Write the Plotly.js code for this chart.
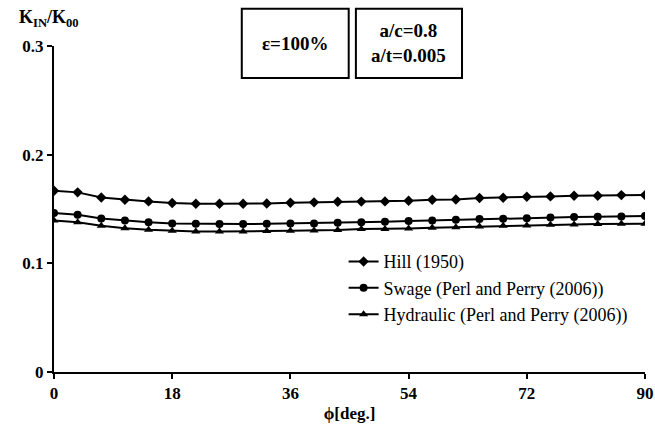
<!DOCTYPE html>
<html>
<head>
<meta charset="utf-8">
<script src="https://cdn.plot.ly/plotly-3.0.1.min.js"></script>
<style>html,body{margin:0;padding:0;background:#fff;}#chart{width:655px;height:425px;}</style>
</head>
<body>
<div id="chart"></div>
<script>
const phi = [0,3.6,7.2,10.8,14.4,18,21.6,25.2,28.8,32.4,36,39.6,43.2,46.8,50.4,54,57.6,61.2,64.8,68.4,72,75.6,79.2,82.8,86.4,90];
const hill = [0.1668,0.1653,0.1606,0.1585,0.1570,0.1555,0.1548,0.1548,0.1548,0.1551,0.1558,0.1561,0.1567,0.1568,0.1570,0.1576,0.1585,0.1588,0.1601,0.1604,0.1613,0.1616,0.1622,0.1622,0.1628,0.1628];
const swage = [0.1463,0.1447,0.1413,0.1394,0.1379,0.1367,0.1364,0.1361,0.1361,0.1364,0.1367,0.1367,0.1373,0.1379,0.1382,0.1389,0.1395,0.1401,0.1407,0.1410,0.1416,0.1422,0.1426,0.1429,0.1431,0.1435];
const hydraulic = [0.1394,0.1379,0.1346,0.1324,0.1309,0.1300,0.1293,0.1293,0.1293,0.1297,0.1300,0.1302,0.1306,0.1315,0.1315,0.1321,0.1327,0.1333,0.1339,0.1346,0.1349,0.1355,0.1358,0.1361,0.1364,0.1364];
const names = ["Hill (1950)","Swage (Perl and Perry (2006))","Hydraulic (Perl and Perry (2006))"];
const xTicks = [0,18,36,54,72,90];
const yTicks = [0,0.1,0.2,0.3];
const yTickText = ["0","0.1","0.2","0.3"];

const serif = "Times New Roman, Liberation Serif, DejaVu Serif, serif";
function tr(y, name, sym, size){
  return {x: phi, y: y, name: name, type: "scatter", mode: "lines+markers",
    line: {color: "#000", width: 2},
    marker: {symbol: sym, size: size, color: "#000"}};
}
const data = [
  tr(hill, names[0], "diamond", 8),
  tr(swage, names[1], "circle", 8),
  tr(hydraulic, names[2], "triangle-up", 8)
];
const ph = 326.3, pw = 592;
const layout = {
  width: 655, height: 425,
  margin: {l: 53.5, r: 9.5, t: 45.7, b: 53},
  paper_bgcolor: "#fff", plot_bgcolor: "#fff",
  font: {family: serif, color: "#000", size: 17},
  showlegend: true,
  legend: {x: 0.49, y: 0.395, xanchor: "left", yanchor: "top", bgcolor: "rgba(0,0,0,0)",
    font: {family: serif, size: 18, color: "#000"}, tracegroupgap: 0, itemwidth: 30},
  xaxis: {range: [0, 90], tickvals: xTicks, ticktext: xTicks.map(String),
    showgrid: false, zeroline: false, showline: true, linecolor: "#000", linewidth: 2,
    ticks: "outside", ticklen: 5, tickwidth: 2, tickcolor: "#000",
    tickfont: {family: serif, size: 17, color: "#000", weight: "bold"},
    title: {text: "<b>ϕ[deg.]</b>", font: {family: serif, size: 17, color: "#000"}, standoff: 5}},
  yaxis: {range: [0, 0.3], tickvals: yTicks, ticktext: yTickText,
    showgrid: false, zeroline: false, showline: true, linecolor: "#000", linewidth: 2,
    ticks: "outside", ticklen: 5, tickwidth: 2, tickcolor: "#000",
    tickfont: {family: serif, size: 17, color: "#000", weight: "bold"}},
  annotations: [
    {xref: "paper", yref: "paper", x: -0.063, y: (372-32)/ph, xanchor: "left", yanchor: "bottom", showarrow: false,
     text: "<b>K<sub>IN</sub>/K<sub>00</sub></b>", font: {family: serif, size: 18, color: "#000"}},
    {xref: "paper", yref: "paper", x: (295-53.5)/pw, y: (372-43)/ph, xanchor: "center", yanchor: "middle", showarrow: false,
     text: "<b>ε=100%</b>", font: {family: serif, size: 19, color: "#000"}},
    {xref: "paper", yref: "paper", x: (409-53.5)/pw, y: (372-43)/ph, xanchor: "center", yanchor: "middle", showarrow: false,
     text: "<b>a/c=0.8<br>a/t=0.005</b>", font: {family: serif, size: 19, color: "#000"}}
  ],
  shapes: [
    {type: "rect", xref: "paper", yref: "paper", x0: (241.6-53.5)/pw, x1: (348.7-53.5)/pw,
     y0: (372-77.7)/ph, y1: (372-8.4)/ph, line: {color: "#000", width: 2}},
    {type: "rect", xref: "paper", yref: "paper", x0: (355.9-53.5)/pw, x1: (462.2-53.5)/pw,
     y0: (372-77.7)/ph, y1: (372-8.4)/ph, line: {color: "#000", width: 2}}
  ]
};
Plotly.newPlot("chart", data, layout, {displayModeBar: false, staticPlot: true});
</script>
</body>
</html>
